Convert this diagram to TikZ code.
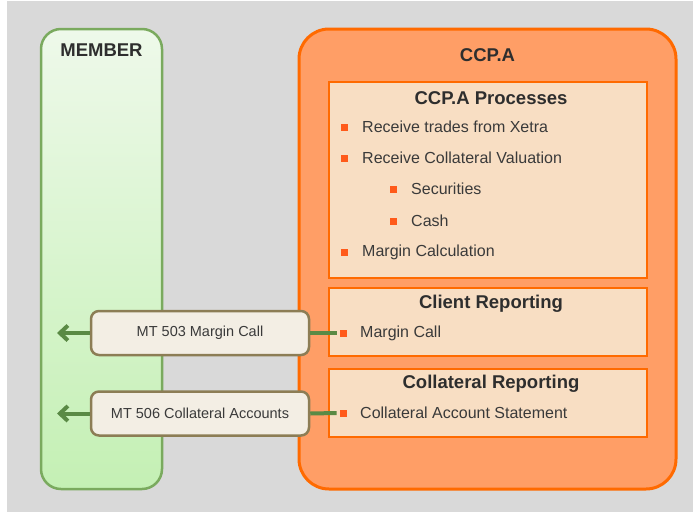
\documentclass[tikz,border=0pt]{standalone}
\usepackage{fontspec}
\setmainfont{Liberation Sans}
\usetikzlibrary{positioning,arrows.meta}
\definecolor{bggray}{HTML}{D9D9D9}
\definecolor{memberline}{HTML}{7AAA5E}
\definecolor{membertop}{HTML}{EEF9EA}
\definecolor{memberbottom}{HTML}{C4F0B4}
\definecolor{ccpfill}{HTML}{FF9E66}
\definecolor{ccpline}{HTML}{FF6A00}
\definecolor{procfill}{HTML}{F8DEC3}
\definecolor{bulletred}{HTML}{FF5A1A}
\definecolor{msgfill}{HTML}{F3EEE4}
\definecolor{msgline}{HTML}{8C7D55}
\definecolor{flowgreen}{HTML}{5A8A45}
\definecolor{textdark}{HTML}{3A3A3A}

\begin{document}
\begin{tikzpicture}[x=1pt,y=-1pt,
	title/.style={font=\fontsize{18.5}{22}\selectfont\bfseries,text=textdark!80!black,inner sep=0pt},
	item/.style={font=\fontsize{16}{19}\selectfont,text=textdark,inner sep=0pt,anchor=west},
	bulletsq/.style={fill=bulletred,minimum size=7pt,inner sep=0pt},
	memberbox/.style={draw=memberline,line width=2.5pt,rounded corners=20pt,top color=membertop,bottom color=memberbottom,minimum width=121pt,minimum height=460pt},
	ccpbox/.style={draw=ccpline,fill=ccpfill,line width=3pt,rounded corners=30pt,minimum width=377pt,minimum height=460pt},
	procbox/.style={draw=ccpline,fill=procfill,line width=2.5pt,minimum width=318pt},
	msgbox/.style={draw=msgline,fill=msgfill,line width=2.5pt,rounded corners=8pt,minimum width=218pt,minimum height=44pt,font=\fontsize{14.5}{17}\selectfont,text=textdark},
	flowline/.style={draw=flowgreen,line width=4pt},
	flowarrow/.style={flowline,-{Straight Barb[length=8pt,width=15pt]}}]
	\useasboundingbox (0,0) rectangle (693,512);
	\fill[white] (0,0) rectangle (693,512);
	\fill[bggray] (7,1) rectangle (693,512);

	\node[memberbox] (member) at (101.5,259) {};
	\node[title] (membertitle) at (101.5,50) {MEMBER};

	\node[ccpbox] (ccp) at (487.5,259) {};
	\node[title] (ccptitle) at (487.5,55) {CCP.A};

	\node[procbox,minimum height=196pt] (proc) at (488,180) {};
	\node[title] (proctitle) at (491,98) {CCP.A Processes};
	\node[item] (rcvtrades) at (362,127) {Receive trades from Xetra};
	\node[item,below=31pt of rcvtrades.west,anchor=west] (rcvvaluation) {Receive Collateral Valuation};
	\node[item,below=31pt of rcvvaluation.west,anchor=west,xshift=49pt] (securities) {Securities};
	\node[item,below=32pt of securities.west,anchor=west] (cash) {Cash};
	\node[item,below=31pt of cash.west,anchor=west,xshift=-49pt] (margincalc) {Margin Calculation};
	\foreach \t in {rcvtrades,rcvvaluation,securities,cash,margincalc}
		\node[bulletsq,left=13.5pt of \t] (\t-b) {};

	\node[procbox,minimum height=68pt] (client) at (488,322) {};
	\node[title] (clienttitle) at (491,304) {Client Reporting};
	\node[item] (margincall) at (360,333) {Margin Call};
	\node[bulletsq,left=13pt of margincall] (margincall-b) {};

	\node[procbox,minimum height=68pt] (collrep) at (488,403) {};
	\node[title] (collreptitle) at (491,384) {Collateral Reporting};
	\node[item] (collstatement) at (360,413) {Collateral Account Statement};
	\node[bulletsq,left=13pt of collstatement] (collstatement-b) {};

	\node[msgbox] (mt503) at (200,333) {MT 503 Margin Call};
	\node[msgbox] (mt506) at (200,413.5) {MT 506 Collateral Accounts};
	\coordinate (mt503tip) at (57,333);
	\coordinate (mt506tip) at (57,413.5);

	\draw[flowline] ([xshift=-3pt]margincall-b.west) -- (mt503.east);
	\draw[flowarrow] (mt503.west) -- (mt503tip);
	\draw[flowline] ([xshift=-3pt]collstatement-b.west) -- (mt506.east);
	\draw[flowarrow] (mt506.west) -- (mt506tip);
\end{tikzpicture}
\end{document}
